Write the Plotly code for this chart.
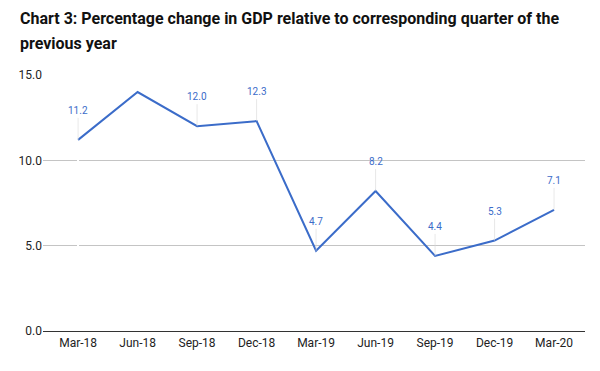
import plotly.graph_objects as go

quarters = ["Mar-18", "Jun-18", "Sep-18", "Dec-18", "Mar-19", "Jun-19", "Sep-19", "Dec-19", "Mar-20"]
gdp_change = [11.2, 14.0, 12.0, 12.3, 4.7, 8.2, 4.4, 5.3, 7.1]
point_labels = ["11.2", "", "12.0", "12.3", "4.7", "8.2", "4.4", "5.3", "7.1"]
y_ticks = [0, 5, 10, 15]
y_tick_text = ["0.0", "5.0", "10.0", "15.0"]
title_lines = ["Chart 3: Percentage change in GDP relative to corresponding quarter of the", "previous year"]

LINE = "#3b6cc9"
FONT = "Roboto"
W, H = 600, 371
L, R, T, B = 43, 15, 75, 40

fig = go.Figure()
fig.add_trace(go.Scatter(
    x=list(range(len(quarters))), y=gdp_change, mode="lines",
    line=dict(color=LINE, width=2), hoverinfo="skip", showlegend=False,
))

for i, (v, t) in enumerate(zip(gdp_change, point_labels)):
    if not t:
        continue
    fig.add_annotation(
        x=i, y=v, xref="x", yref="y", text=t,
        showarrow=True, arrowhead=0, arrowwidth=0.6, arrowcolor="#d9d9d9",
        ax=0, ay=-22, standoff=0, startstandoff=0,
        font=dict(family=FONT, size=10, color=LINE),
        yanchor="bottom",
    )

ph = H - T - B
pw = W - L - R
for k, line in enumerate(title_lines):
    ytop = 7 + k * 25
    fig.add_annotation(
        x=(18 - L) / pw, y=(H - B - ytop) / ph, xref="paper", yref="paper",
        text=f"<b>{line}</b>", showarrow=False, xanchor="left", yanchor="top",
        font=dict(family=FONT, size=16, color="#111111"),
    )

fig.update_layout(
    width=W, height=H,
    margin=dict(l=L, r=R, t=T, b=B, autoexpand=False),
    paper_bgcolor="white", plot_bgcolor="white",
    font=dict(family=FONT, size=12, color="#222222"),
    xaxis=dict(
        range=[-0.59, len(quarters) - 0.48],
        tickvals=list(range(len(quarters))), ticktext=quarters,
        showgrid=False, showline=True, linecolor="#333333", linewidth=1.3,
        ticks="", tickfont=dict(family=FONT, size=12, color="#222222"),
        fixedrange=True, layer="above traces",
    ),
    yaxis=dict(
        range=[0, 15], tickvals=y_ticks, ticktext=y_tick_text,
        showgrid=True, gridcolor="#c4c4c4", gridwidth=1.2,
        zeroline=False, showline=False, ticks="",
        tickfont=dict(family=FONT, size=12, color="#222222"),
        fixedrange=True,
    ),
)

fig.write_html("out.html", config={"displayModeBar": False},
               post_script="document.body.style.margin='0';")
